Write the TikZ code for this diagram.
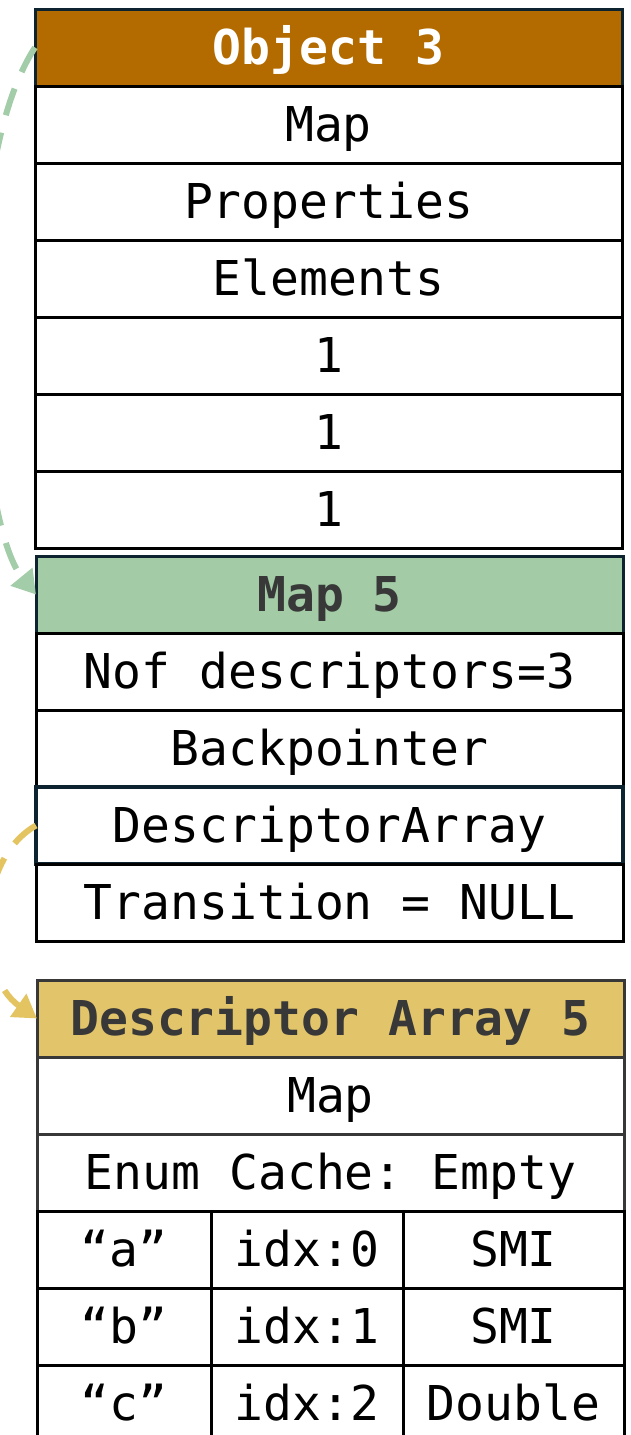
\documentclass[tikz,border=0pt]{standalone}
\usepackage{fontspec}
\setmonofont{DejaVu Sans Mono}
\usetikzlibrary{positioning,arrows.meta}
\definecolor{objbrown}{HTML}{B36B00}
\definecolor{mapgreen}{HTML}{A2CBA6}
\definecolor{descyellow}{HTML}{E2C46A}
\definecolor{hdrline}{HTML}{0E2330}
\definecolor{hdrtext}{HTML}{383838}
\definecolor{linkgreen}{HTML}{A3CDA8}
\definecolor{linkyellow}{HTML}{E3C461}
\tikzset{
  cell/.style={draw=black, line width=3pt, minimum width=587pt, minimum height=77pt,
    inner sep=0pt, outer sep=0pt, text height=35pt, text depth=1pt,
    font=\ttfamily\fontsize{48}{56}\selectfont, anchor=north west},
  hdr/.style={cell, draw=hdrline, text=hdrtext,
    font=\ttfamily\bfseries\fontsize{48}{56}\selectfont},
  link/.style={line width=6pt, dash pattern=on 28pt off 18pt,
    -{Triangle[length=23pt,width=27pt]}}
}
\begin{document}
\begin{tikzpicture}[x=1pt,y=-1pt]
    \useasboundingbox (0,0) rectangle (631,1435);
    % Object 3
    \node[hdr, fill=objbrown, text=white] (obj) at (35,9) {Object 3};
    \node[cell, below=0pt of obj] (omap) {Map};
    \node[cell, below=0pt of omap] (oprop) {Properties};
    \node[cell, below=0pt of oprop] (oelem) {Elements};
    \node[cell, below=0pt of oelem] (oone) {1};
    \node[cell, below=0pt of oone] (otwo) {1};
    \node[cell, below=0pt of otwo] (othree) {1};
    % Map 5
    \node[hdr, fill=mapgreen] (map) at (36,556) {Map 5};
    \node[cell, below=0pt of map] (mnof) {Nof descriptors=3};
    \node[cell, below=0pt of mnof] (mback) {Backpointer};
    \node[cell, below=0pt of mback, draw=hdrline, line width=3.5pt] (darr) {DescriptorArray};
    \node[cell, below=0pt of darr] (mtrans) {Transition = NULL};
    % Descriptor Array 5
    \node[hdr, fill=descyellow, draw=hdrtext] (desc) at (37,980) {Descriptor Array 5};
    \node[cell, below=0pt of desc, draw=hdrtext] (dmap) {Map};
    \node[cell, below=0pt of dmap, draw=hdrtext] (denum) {Enum Cache: Empty};
    % Descriptors
    \foreach \k/\idx/\typ [count=\r] in {a/0/SMI, b/1/SMI, c/2/Double} {
        \node[cell, minimum width=174pt] (key\r) at (37,{1211+77*(\r-1)}) {“\k”};
        \node[cell, minimum width=192pt, right=0pt of key\r] (idx\r) {idx:\idx};
        \node[cell, minimum width=221pt, right=0pt of idx\r] (typ\r) {\typ};
    }
    % Pointers
    \draw[link, linkgreen] (obj.west) .. controls (-45,170) and (-25,520) .. (map.west);
    \draw[link, linkyellow] (darr.west) .. controls (-25,860) and (-25,975) .. (desc.west);
\end{tikzpicture}
\end{document}
